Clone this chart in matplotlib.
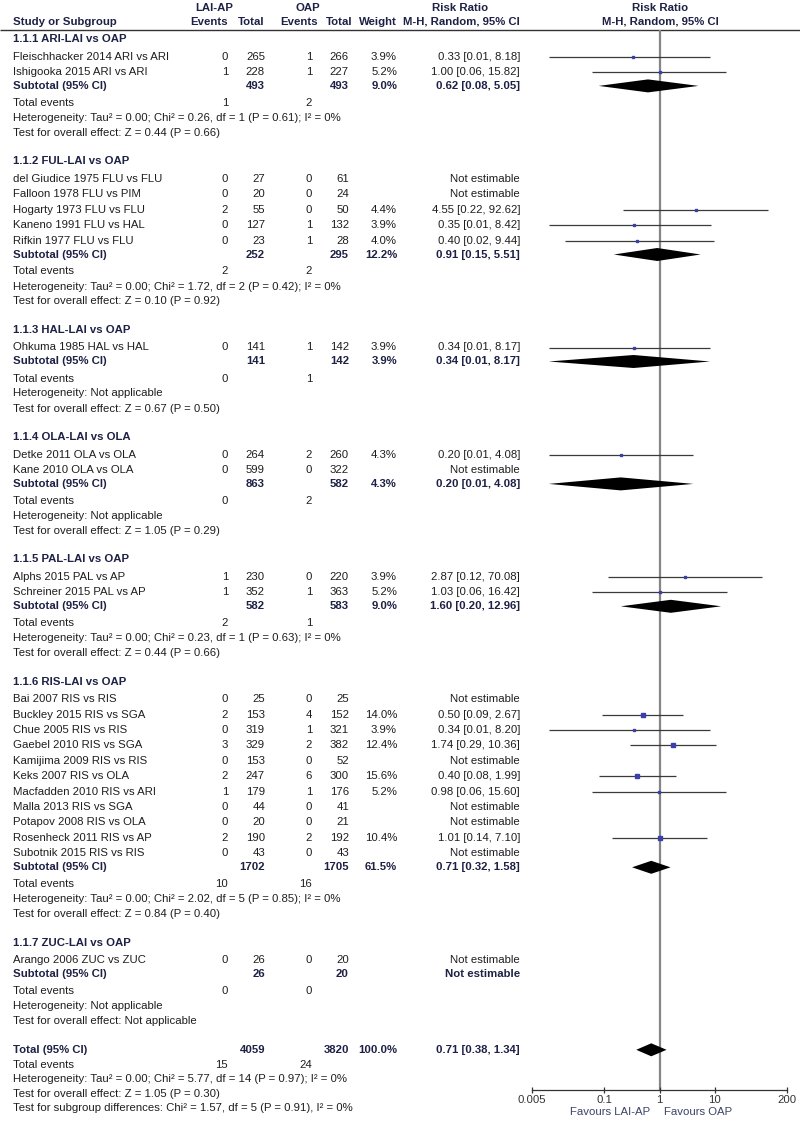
import matplotlib.pyplot as plt
import numpy as np

plt.rcParams['font.family'] = ['Liberation Sans', 'DejaVu Sans']

# ---- data ----
group_names = ["1.1.1 ARI-LAI vs OAP", "1.1.2 FUL-LAI vs OAP", "1.1.3 HAL-LAI vs OAP",
               "1.1.4 OLA-LAI vs OLA", "1.1.5 PAL-LAI vs OAP", "1.1.6 RIS-LAI vs OAP",
               "1.1.7 ZUC-LAI vs OAP"]

study_group = [0, 0,
               1, 1, 1, 1, 1,
               2,
               3, 3,
               4, 4,
               5, 5, 5, 5, 5, 5, 5, 5, 5, 5, 5,
               6]
study_names = ["Fleischhacker 2014 ARI vs ARI", "Ishigooka 2015 ARI vs ARI",
               "del Giudice 1975 FLU vs FLU", "Falloon 1978 FLU vs PIM", "Hogarty 1973 FLU vs FLU",
               "Kaneno 1991 FLU vs HAL", "Rifkin 1977 FLU vs FLU",
               "Ohkuma 1985 HAL vs HAL",
               "Detke 2011 OLA vs OLA", "Kane 2010 OLA vs OLA",
               "Alphs 2015 PAL vs AP", "Schreiner 2015 PAL vs AP",
               "Bai 2007 RIS vs RIS", "Buckley 2015 RIS vs SGA", "Chue 2005 RIS vs RIS",
               "Gaebel 2010 RIS vs SGA", "Kamijima 2009 RIS vs RIS", "Keks 2007 RIS vs OLA",
               "Macfadden 2010 RIS vs ARI", "Malla 2013 RIS vs SGA", "Potapov 2008 RIS vs OLA",
               "Rosenheck 2011 RIS vs AP", "Subotnik 2015 RIS vs RIS",
               "Arango 2006 ZUC vs ZUC"]
lai_events = [0, 1, 0, 0, 2, 0, 0, 0, 0, 0, 1, 1, 0, 2, 0, 3, 0, 2, 1, 0, 0, 2, 0, 0]
lai_total = [265, 228, 27, 20, 55, 127, 23, 141, 264, 599, 230, 352,
             25, 153, 319, 329, 153, 247, 179, 44, 20, 190, 43, 26]
oap_events = [1, 1, 0, 0, 0, 1, 1, 1, 2, 0, 0, 1, 0, 4, 1, 2, 0, 6, 1, 0, 0, 2, 0, 0]
oap_total = [266, 227, 61, 24, 50, 132, 28, 142, 260, 322, 220, 363,
             25, 152, 321, 382, 52, 300, 176, 41, 21, 192, 43, 20]
nan = np.nan
weights = [3.9, 5.2, nan, nan, 4.4, 3.9, 4.0, 3.9, 4.3, nan, 3.9, 5.2,
           nan, 14.0, 3.9, 12.4, nan, 15.6, 5.2, nan, nan, 10.4, nan, nan]
rr = [0.33, 1.00, nan, nan, 4.55, 0.35, 0.40, 0.34, 0.20, nan, 2.87, 1.03,
      nan, 0.50, 0.34, 1.74, nan, 0.40, 0.98, nan, nan, 1.01, nan, nan]
rr_lo = [0.01, 0.06, nan, nan, 0.22, 0.01, 0.02, 0.01, 0.01, nan, 0.12, 0.06,
         nan, 0.09, 0.01, 0.29, nan, 0.08, 0.06, nan, nan, 0.14, nan, nan]
rr_hi = [8.18, 15.82, nan, nan, 92.62, 8.42, 9.44, 8.17, 4.08, nan, 70.08, 16.42,
         nan, 2.67, 8.20, 10.36, nan, 1.99, 15.60, nan, nan, 7.10, nan, nan]

sub_lai_total = [493, 252, 141, 863, 582, 1702, 26]
sub_oap_total = [493, 295, 142, 582, 583, 1705, 20]
sub_lai_events = [1, 2, 0, 0, 2, 10, 0]
sub_oap_events = [2, 2, 1, 2, 1, 16, 0]
sub_weight = [9.0, 12.2, 3.9, 4.3, 9.0, 61.5, nan]
sub_rr = [0.62, 0.91, 0.34, 0.20, 1.60, 0.71, nan]
sub_lo = [0.08, 0.15, 0.01, 0.01, 0.20, 0.32, nan]
sub_hi = [5.05, 5.51, 8.17, 4.08, 12.96, 1.58, nan]
sub_het = ["Heterogeneity: Tau² = 0.00; Chi² = 0.26, df = 1 (P = 0.61); I² = 0%",
           "Heterogeneity: Tau² = 0.00; Chi² = 1.72, df = 2 (P = 0.42); I² = 0%",
           "Heterogeneity: Not applicable",
           "Heterogeneity: Not applicable",
           "Heterogeneity: Tau² = 0.00; Chi² = 0.23, df = 1 (P = 0.63); I² = 0%",
           "Heterogeneity: Tau² = 0.00; Chi² = 2.02, df = 5 (P = 0.85); I² = 0%",
           "Heterogeneity: Not applicable"]
sub_test = ["Test for overall effect: Z = 0.44 (P = 0.66)",
            "Test for overall effect: Z = 0.10 (P = 0.92)",
            "Test for overall effect: Z = 0.67 (P = 0.50)",
            "Test for overall effect: Z = 1.05 (P = 0.29)",
            "Test for overall effect: Z = 0.44 (P = 0.66)",
            "Test for overall effect: Z = 0.84 (P = 0.40)",
            "Test for overall effect: Not applicable"]

total_lai, total_oap = 4059, 3820
total_ev_lai, total_ev_oap = 15, 24
total_rr, total_lo, total_hi = 0.71, 0.38, 1.34
total_lines = ["Heterogeneity: Tau² = 0.00; Chi² = 5.77, df = 14 (P = 0.97); I² = 0%",
               "Test for overall effect: Z = 1.05 (P = 0.30)",
               "Test for subgroup differences: Chi² = 1.57, df = 5 (P = 0.91), I² = 0%"]

axis_ticks = [0.005, 0.1, 1, 10, 200]
axis_labels = ["0.005", "0.1", "1", "10", "200"]

# ---- layout (pixel units of an 800x1130 canvas) ----
FS = 8.2
TXT = '#1e1e1e'
BOLD = '#1d2145'
X_NAME, X_EV1, X_TOT1, X_EV2, X_TOT2, X_W, X_RR = 13, 228, 265, 312, 349, 397, 520
AXIS_Y = 1090

fig = plt.figure(figsize=(8, 11.3), dpi=100)
tx = fig.add_axes([0, 0, 1, 1])
tx.set_xlim(0, 800)
tx.set_ylim(1130, 0)
tx.axis('off')

fx = fig.add_axes([532 / 800, 0, 255 / 800, 1])
fx.set_xscale('log')
fx.set_xlim(0.005, 200)
fx.set_ylim(1130, 0)
fx.patch.set_alpha(0)


def put(x, y, s, ha='left', bold=False, color=None):
    tx.text(x, y, s, ha=ha, va='center', fontsize=FS,
            fontweight='bold' if bold else 'normal',
            color=color or (BOLD if bold else TXT))


def rr_text(r, lo, hi):
    if np.isnan(r):
        return "Not estimable"
    return f"{r:.2f} [{lo:.2f}, {hi:.2f}]"


def diamond(y, r, lo, hi, h=6.5):
    fx.fill([lo, r, hi, r], [y, y - h, y, y + h], color='black', lw=0)


# column headers
put(214, 8, "LAI-AP", ha='center', bold=True)
put(308, 8, "OAP", ha='center', bold=True)
put(460, 8, "Risk Ratio", ha='center', bold=True)
put(660, 8, "Risk Ratio", ha='center', bold=True)
put(X_NAME, 22, "Study or Subgroup", bold=True)
put(X_EV1, 22, "Events", ha='right', bold=True)
put(X_TOT1, 22, "Total", ha='right', bold=True)
put(318, 22, "Events", ha='right', bold=True)
put(353, 22, "Total", ha='right', bold=True)
put(X_W, 22, "Weight", ha='right', bold=True)
put(X_RR, 22, "M-H, Random, 95% CI", ha='right', bold=True)
put(660, 22, "M-H, Random, 95% CI", ha='center', bold=True)
tx.hlines(29.5, 0, 800, color='#333333', lw=1.0)

y = 39
for g, gname in enumerate(group_names):
    put(X_NAME, y, gname, bold=True)
    y += 17.5
    idx = [i for i, s in enumerate(study_group) if s == g]
    for k, i in enumerate(idx):
        put(X_NAME, y, study_names[i])
        put(X_EV1, y, str(lai_events[i]), ha='right')
        put(X_TOT1, y, str(lai_total[i]), ha='right')
        put(X_EV2, y, str(oap_events[i]), ha='right')
        put(X_TOT2, y, str(oap_total[i]), ha='right')
        if not np.isnan(weights[i]):
            put(X_W, y, f"{weights[i]:.1f}%", ha='right')
            fx.hlines(y, rr_lo[i], rr_hi[i], color='#3a3a3a', lw=0.9)
            fx.plot(rr[i], y, marker='s', ms=max(1.6, 0.75 * np.sqrt(weights[i])),
                    color='#3b3fa8', mec='#3b3fa8')
        put(X_RR, y, rr_text(rr[i], rr_lo[i], rr_hi[i]), ha='right')
        if k < len(idx) - 1:
            y += 15.4
    y += 14
    put(X_NAME, y, "Subtotal (95% CI)", bold=True)
    put(X_TOT1, y, str(sub_lai_total[g]), ha='right', bold=True)
    put(X_TOT2, y, str(sub_oap_total[g]), ha='right', bold=True)
    if not np.isnan(sub_weight[g]):
        put(X_W, y, f"{sub_weight[g]:.1f}%", ha='right', bold=True)
        diamond(y, sub_rr[g], sub_lo[g], sub_hi[g])
    put(X_RR, y, rr_text(sub_rr[g], sub_lo[g], sub_hi[g]), ha='right', bold=True)
    y += 17
    put(X_NAME, y, "Total events")
    put(X_EV1, y, str(sub_lai_events[g]), ha='right')
    put(X_EV2, y, str(sub_oap_events[g]), ha='right')
    y += 15
    put(X_NAME, y, sub_het[g])
    y += 15
    put(X_NAME, y, sub_test[g])
    y += 28.5

# overall
put(X_NAME, y, "Total (95% CI)", bold=True)
put(X_TOT1, y, str(total_lai), ha='right', bold=True)
put(X_TOT2, y, str(total_oap), ha='right', bold=True)
put(X_W, y, "100.0%", ha='right', bold=True)
put(X_RR, y, rr_text(total_rr, total_lo, total_hi), ha='right', bold=True)
diamond(y, total_rr, total_lo, total_hi)
y += 15
put(X_NAME, y, "Total events")
put(X_EV1, y, str(total_ev_lai), ha='right')
put(X_EV2, y, str(total_ev_oap), ha='right')
for line in total_lines:
    y += 14.5
    put(X_NAME, y, line)

# forest axis
fx.vlines(1, 29.5, AXIS_Y, color='#858585', lw=1.6, zorder=0)
for s in ['top', 'left', 'right']:
    fx.spines[s].set_visible(False)
fx.spines['bottom'].set_position(('data', AXIS_Y))
fx.spines['bottom'].set_linewidth(0.9)
fx.spines['bottom'].set_color('#333333')
fx.set_yticks([])
fx.set_xticks(axis_ticks)
fx.set_xticklabels(axis_labels)
fx.xaxis.set_minor_locator(plt.NullLocator())
fx.tick_params(axis='x', direction='inout', length=5, width=0.9, pad=1.0,
               labelsize=FS, colors='#333333')
put(650, 1112, "Favours LAI-AP", ha='right', color='#3c4466')
put(664, 1112, "Favours OAP", color='#3c4466')

fig.savefig('out.png', dpi=100)
